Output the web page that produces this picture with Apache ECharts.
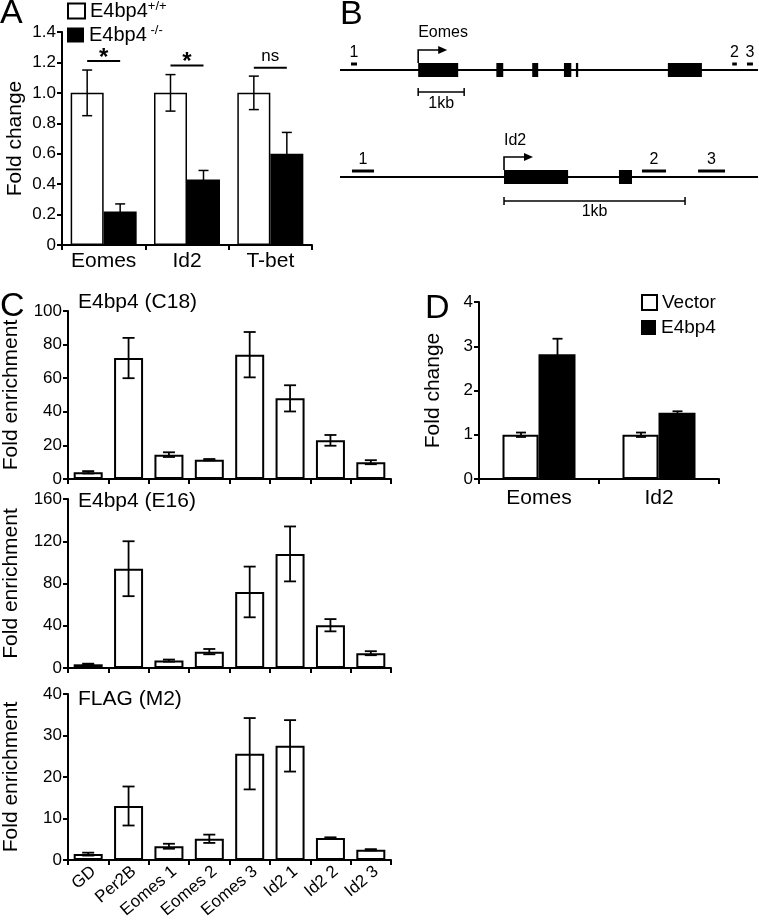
<!DOCTYPE html>
<html><head><meta charset="utf-8">
<script src="https://cdn.jsdelivr.net/npm/echarts@6/dist/echarts.min.js"></script>
<style>html,body{margin:0;padding:0;background:#fff}#c{width:759px;height:921px}</style>
</head><body><div id="c"></div>
<script>
// ---------- Panel A ----------
const aCategories = ['Eomes', 'Id2', 'T-bet'];
const aWildType = [1.0, 1.0, 1.0];
const aWildTypeErr = [0.15, 0.12, 0.11];
const aKnockout = [0.22, 0.43, 0.60];
const aKnockoutErr = [0.05, 0.06, 0.14];
const aSignificance = [[0, 1.21, '*'], [1, 1.18, '*'], [2, 1.165, 'ns']];
const aLegendBase = 'E4bp4';
const aLegendSup = ['+/+', ' -/-'];

// ---------- Panel B (positions in kb relative to TSS) ----------
const eomesLine = [-1.7, 7.39];
const eomesExons = [[0, 0.87], [1.70, 1.85], [2.48, 2.61], [3.17, 3.33], [3.43, 3.48], [5.43, 6.17]];
const eomesAmplicons = [[-1.46, -1.33, '1'], [6.83, 6.93, '2'], [7.15, 7.28, '3']];
const id2Line = [-0.906, 1.403];
const id2Exons = [[0, 0.354], [0.635, 0.707]];
const id2Amplicons = [[-0.84, -0.718, '1'], [0.762, 0.895, '2'], [1.072, 1.221, '3']];
const scaleBarKb = 1;
const scaleBarLabel = '1kb';

// ---------- Panel C ----------
const cCategories = ['GD', 'Per2B', 'Eomes 1', 'Eomes 2', 'Eomes 3', 'Id2 1', 'Id2 2', 'Id2 3'];
const c18Values = [4, 72, 14.5, 11.5, 74, 48, 23, 10];
const c18Err = [0.7, 12, 1.4, 0.4, 13.5, 7.8, 3.2, 1.2];
const e16Values = [3.5, 94, 7, 15.5, 72, 108, 40.5, 14];
const e16Err = [0.6, 26, 1, 2.5, 24, 26, 5.8, 1.9];
const m2Values = [1.4, 13, 3.3, 5.1, 25.6, 27.5, 5.3, 2.45];
const m2Err = [0.35, 4.7, 0.6, 1.0, 8.6, 6.2, 0.15, 0.15];

// ---------- Panel D ----------
const dCategories = ['Eomes', 'Id2'];
const dVector = [1.0, 1.0];
const dVectorErr = [0.05, 0.05];
const dE4bp4 = [2.82, 1.5];
const dE4bp4Err = [0.35, 0.03];

const F = "'Liberation Sans', Arial, sans-serif";
const K = '#000';

function catAxis(gi, data, label) {
  return {
    type: 'category', gridIndex: gi, data: data,
    axisLine: { show: true, lineStyle: { color: K, width: 2 } },
    axisTick: { show: true, length: 5, inside: false, lineStyle: { color: K, width: 2 } },
    axisLabel: Object.assign({ show: !!label, color: K, fontFamily: F, interval: 0 }, label || {}),
    splitLine: { show: false }
  };
}
function valAxis(gi, max, interval, name, nameGap, fmt) {
  return {
    type: 'value', gridIndex: gi, min: 0, max: max, interval: interval,
    axisLine: { show: true, lineStyle: { color: K, width: 2 } },
    axisTick: { show: true, length: 5, inside: false, lineStyle: { color: K, width: 2 } },
    axisLabel: { color: K, fontFamily: F, fontSize: 17, margin: 6, formatter: fmt },
    splitLine: { show: false },
    name: name, nameLocation: 'middle', nameGap: nameGap, nameRotate: 90,
    nameTextStyle: { color: K, fontFamily: F, fontSize: 21 }
  };
}
function hiddenAxes(gi, range) {
  return [
    { type: 'value', gridIndex: gi, min: range[0], max: range[1], show: false },
    { type: 'value', gridIndex: gi, min: -1, max: 1, show: false }
  ];
}
function errSeries(ai, values, errs, offset, cap, lw) {
  return {
    type: 'custom', xAxisIndex: ai, yAxisIndex: ai, silent: true, z: 5,
    data: values.map((v, i) => [i, v, errs[i]]),
    encode: { x: 0, y: 1 },
    renderItem: function (params, api) {
      const i = api.value(0), v = api.value(1), e = api.value(2);
      const t = api.coord([i, v + e]), b = api.coord([i, v - e]);
      const x = t[0] + offset;
      const st = { stroke: K, lineWidth: lw };
      return { type: 'group', children: [
        { type: 'line', shape: { x1: x, y1: t[1], x2: x, y2: b[1] }, style: st },
        { type: 'line', shape: { x1: x - cap, y1: t[1], x2: x + cap, y2: t[1] }, style: st },
        { type: 'line', shape: { x1: x - cap, y1: b[1], x2: x + cap, y2: b[1] }, style: st }
      ] };
    }
  };
}
function whiteBar(ai, name, data, w, bw) {
  return { type: 'bar', name: name, xAxisIndex: ai, yAxisIndex: ai, data: data, barWidth: w, barGap: '0%',
    itemStyle: { color: '#fff', borderColor: K, borderWidth: bw }, silent: true };
}
function blackBar(ai, name, data, w) {
  return { type: 'bar', name: name, xAxisIndex: ai, yAxisIndex: ai, data: data, barWidth: w, barGap: '0%',
    itemStyle: { color: K, borderColor: K, borderWidth: 0 }, silent: true };
}
function geneSeries(ai, line, exons, amps, geneName, cfg) {
  return {
    type: 'custom', xAxisIndex: ai, yAxisIndex: ai, silent: true, clip: false,
    data: [[line[0], 0]], encode: { x: 0, y: 1 },
    renderItem: function (params, api) {
      const ch = [];
      const p0 = api.coord([line[0], 0]), p1 = api.coord([line[1], 0]);
      const y = p0[1];
      ch.push({ type: 'line', shape: { x1: p0[0], y1: y, x2: p1[0], y2: y }, style: { stroke: K, lineWidth: 2 } });
      exons.forEach(function (ex) {
        const a = api.coord([ex[0], 0]), b = api.coord([ex[1], 0]);
        ch.push({ type: 'rect', shape: { x: a[0], y: y - 7, width: Math.max(b[0] - a[0], 2), height: 14 }, style: { fill: K } });
      });
      amps.forEach(function (am) {
        const a = api.coord([am[0], 0]), b = api.coord([am[1], 0]);
        ch.push({ type: 'rect', shape: { x: a[0], y: y - cfg.ampOff - 1.5, width: b[0] - a[0], height: 3 }, style: { fill: K } });
        ch.push({ type: 'text', style: { text: am[2], x: (a[0] + b[0]) / 2, y: y - cfg.ampLab, align: 'center', verticalAlign: 'middle', fill: K, font: '16px ' + F } });
      });
      const t = api.coord([0, 0]);
      const ay = y - 20;
      ch.push({ type: 'polyline', shape: { points: [[t[0], y - 7], [t[0], ay], [t[0] + 22, ay]] }, style: { stroke: K, lineWidth: 1.6, fill: null } });
      ch.push({ type: 'polygon', shape: { points: [[t[0] + 20, ay - 4], [t[0] + 29, ay], [t[0] + 20, ay + 4]] }, style: { fill: K } });
      ch.push({ type: 'text', style: { text: geneName, x: t[0], y: y - cfg.nameOff, align: 'left', verticalAlign: 'middle', fill: K, font: '16px ' + F } });
      const s0 = api.coord([0, 0]), s1 = api.coord([scaleBarKb, 0]);
      const sy = y + cfg.scaleOff;
      const st = { stroke: K, lineWidth: 1.5 };
      ch.push({ type: 'line', shape: { x1: s0[0], y1: sy, x2: s1[0], y2: sy }, style: st });
      ch.push({ type: 'line', shape: { x1: s0[0], y1: sy - 4, x2: s0[0], y2: sy + 4 }, style: st });
      ch.push({ type: 'line', shape: { x1: s1[0], y1: sy - 4, x2: s1[0], y2: sy + 4 }, style: st });
      ch.push({ type: 'text', style: { text: scaleBarLabel, x: (s0[0] + s1[0]) / 2, y: sy + cfg.scaleLab, align: 'center', verticalAlign: 'middle', fill: K, font: '16px ' + F } });
      return { type: 'group', children: ch };
    }
  };
}

const aFmt = v => v === 0 ? '0' : v.toFixed(1);
const intFmt = v => String(v);
const letterStyle = { fontSize: 34, fontWeight: 'normal', fontFamily: F, color: K };
const subStyle = { fontSize: 21, fontWeight: 'normal', fontFamily: F, color: K };

const option = {
  animation: false,
  backgroundColor: '#fff',
  textStyle: { fontFamily: F, color: K },
  title: [
    { text: 'A', left: 0, top: -3, padding: 0, textStyle: letterStyle },
    { text: 'B', left: 340, top: -2, padding: 0, textStyle: letterStyle },
    { text: 'C', left: 0, top: 290, padding: 0, textStyle: letterStyle },
    { text: 'D', left: 425, top: 292, padding: 0, textStyle: letterStyle },
    { text: 'E4bp4 (C18)', left: 78, top: 292, padding: 0, textStyle: subStyle },
    { text: 'E4bp4 (E16)', left: 78, top: 491, padding: 0, textStyle: subStyle },
    { text: 'FLAG (M2)', left: 78, top: 689, padding: 0, textStyle: subStyle }
  ],
  legend: [
    { data: ['wt'], left: 67, top: 0, padding: 0, itemWidth: 17, itemHeight: 15, icon: 'rect', selectedMode: false,
      formatter: () => '{m|' + aLegendBase + '}{s|' + aLegendSup[0] + '}',
      textStyle: { color: K, rich: { m: { fontSize: 20, lineHeight: 22, fontFamily: F, color: K }, s: { fontSize: 13, lineHeight: 13, verticalAlign: 'top', fontFamily: F, color: K } } } },
    { data: ['ko'], left: 67, top: 24, padding: 0, itemWidth: 17, itemHeight: 15, icon: 'rect', selectedMode: false,
      formatter: () => '{m|' + aLegendBase + '}{s|' + aLegendSup[1] + '}',
      textStyle: { color: K, rich: { m: { fontSize: 20, lineHeight: 22, fontFamily: F, color: K }, s: { fontSize: 13, lineHeight: 13, verticalAlign: 'top', fontFamily: F, color: K } } } },
    { data: ['Vector'], left: 641, top: 293, padding: 0, itemWidth: 15, itemHeight: 15, icon: 'rect', selectedMode: false,
      textStyle: { color: K, fontSize: 19, fontFamily: F } },
    { data: ['E4bp4'], left: 641, top: 318, padding: 0, itemWidth: 15, itemHeight: 15, icon: 'rect', selectedMode: false,
      textStyle: { color: K, fontSize: 19, fontFamily: F } }
  ],
  grid: [
    { left: 62, top: 32, width: 250, height: 213 },
    { left: 340, top: 60, width: 418, height: 20 },
    { left: 340, top: 167, width: 418, height: 20 },
    { left: 68, top: 311, width: 323, height: 168 },
    { left: 68, top: 499, width: 323, height: 169 },
    { left: 68, top: 694, width: 323, height: 169 },
    { left: 479, top: 302, width: 240, height: 177 }
  ],
  xAxis: [
    catAxis(0, aCategories, { fontSize: 21, margin: 6 }),
    hiddenAxes(1, eomesLine)[0],
    hiddenAxes(2, id2Line)[0],
    catAxis(3, cCategories, null),
    catAxis(4, cCategories, null),
    catAxis(5, cCategories, { fontSize: 17, rotate: 40, margin: 3, verticalAlign: 'top' }),
    catAxis(6, dCategories, { fontSize: 21, margin: 9 })
  ],
  yAxis: [
    valAxis(0, 1.4, 0.2, 'Fold change', 36, aFmt),
    hiddenAxes(1, eomesLine)[1],
    hiddenAxes(2, id2Line)[1],
    valAxis(3, 100, 20, 'Fold enrichment', 46, intFmt),
    valAxis(4, 160, 40, 'Fold enrichment', 46, intFmt),
    valAxis(5, 40, 10, 'Fold enrichment', 46, intFmt),
    valAxis(6, 4, 1, 'Fold change', 35, intFmt)
  ],
  series: [
    whiteBar(0, 'wt', aWildType, 33, 1.5),
    blackBar(0, 'ko', aKnockout, 33),
    errSeries(0, aWildType, aWildTypeErr, -16.5, 5, 1.5),
    errSeries(0, aKnockout, aKnockoutErr, 16.5, 5, 1.5),
    {
      type: 'custom', xAxisIndex: 0, yAxisIndex: 0, silent: true, z: 6,
      data: aSignificance.map(s => [s[0], s[1]]), encode: { x: 0, y: 1 },
      renderItem: function (params, api) {
        const c = api.coord([api.value(0), api.value(1)]);
        const lab = aSignificance[params.dataIndex][2];
        const star = lab === '*';
        return { type: 'group', children: [
          { type: 'line', shape: { x1: c[0] - 16.5, y1: c[1], x2: c[0] + 16.5, y2: c[1] }, style: { stroke: K, lineWidth: 2 } },
          { type: 'text', style: { text: lab, x: c[0], y: star ? c[1] - 15 : c[1] - 3, align: 'center', verticalAlign: star ? 'top' : 'bottom', fill: K,
            font: star ? 'bold 24px ' + F : '17px ' + F } }
        ] };
      }
    },
    geneSeries(1, eomesLine, eomesExons, eomesAmplicons, 'Eomes', { ampOff: 6, ampLab: 17, nameOff: 37, scaleOff: 22, scaleLab: 12 }),
    geneSeries(2, id2Line, id2Exons, id2Amplicons, 'Id2', { ampOff: 6, ampLab: 17, nameOff: 36, scaleOff: 24, scaleLab: 11 }),
    whiteBar(3, 'c18', c18Values, 29, 2),
    errSeries(3, c18Values, c18Err, 0, 6, 1.8),
    whiteBar(4, 'e16', e16Values, 29, 2),
    errSeries(4, e16Values, e16Err, 0, 6, 1.8),
    whiteBar(5, 'm2', m2Values, 29, 2),
    errSeries(5, m2Values, m2Err, 0, 6, 1.8),
    whiteBar(6, 'Vector', dVector, 36, 2),
    blackBar(6, 'E4bp4', dE4bp4, 37),
    errSeries(6, dVector, dVectorErr, -18, 5, 1.8),
    errSeries(6, dE4bp4, dE4bp4Err, 18.5, 5, 1.8)
  ]
};
const chart = echarts.init(document.getElementById('c'), null, { renderer: 'canvas' });
chart.setOption(option);
</script>
</body></html>
